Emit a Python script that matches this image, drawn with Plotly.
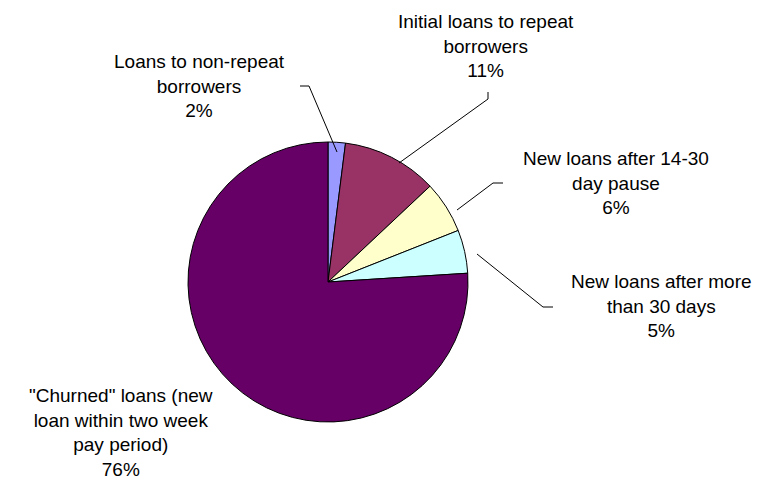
import plotly.graph_objects as go

categories = [
    "Loans to non-repeat<br>borrowers",
    "Initial loans to repeat<br>borrowers",
    "New loans after 14-30<br>day pause",
    "New loans after more<br>than 30 days",
    "\"Churned\" loans (new<br>loan within two week<br>pay period)",
]
values = [2, 11, 6, 5, 76]
colors = ["#9999FF", "#993366", "#FFFFCC", "#CCFFFF", "#660066"]

# label placement (pixel coordinates of the page) and leader lines
label_pos = [(199, 86), (486, 46), (616, 183), (661, 306), (121, 432)]
leaders = [
    [(300, 86), (309, 86), (337, 152)],
    [(488, 92), (488, 99), (399, 163)],
    [(503, 183), (493, 183), (457, 210)],
    [(553, 307), (543, 307), (477, 254)],
    None,
]

W, H = 768, 482
cx, cy, r = 328, 282, 140

fig = go.Figure()
fig.add_trace(go.Pie(
    labels=categories,
    values=values,
    marker=dict(colors=colors, line=dict(color="black", width=1)),
    sort=False,
    direction="clockwise",
    rotation=0,
    textinfo="none",
    hoverinfo="label+percent",
    showlegend=False,
    domain=dict(x=[(cx - r) / W, (cx + r) / W], y=[(H - cy - r) / H, (H - cy + r) / H]),
))

annotations = []
for lab, v, (x, y) in zip(categories, values, label_pos):
    annotations.append(dict(
        x=x, y=y, xref="x", yref="y",
        text=f"{lab}<br>{v}%",
        showarrow=False, xanchor="center", yanchor="middle", align="center",
        font=dict(family="Liberation Sans, Arial, sans-serif", size=19, color="black"),
    ))

shapes = []
for pts in leaders:
    if not pts:
        continue
    path = "M " + " L ".join(f"{px},{py}" for px, py in pts)
    shapes.append(dict(type="path", path=path, xref="x", yref="y",
                       line=dict(color="black", width=1)))

fig.update_layout(
    width=W, height=H,
    margin=dict(l=0, r=0, t=0, b=0),
    paper_bgcolor="white", plot_bgcolor="white",
    xaxis=dict(range=[0, W], visible=False, fixedrange=True),
    yaxis=dict(range=[H, 0], visible=False, fixedrange=True),
    annotations=annotations,
    shapes=shapes,
)

fig.write_html("out.html")
